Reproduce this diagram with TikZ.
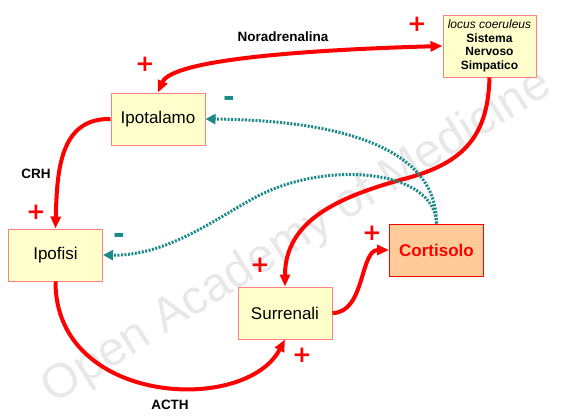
\documentclass[tikz,border=0pt]{standalone}
\usepackage{fontspec}
\setmainfont{Liberation Sans}
\newfontfamily\djv{DejaVu Sans}
\usetikzlibrary{arrows.meta}
\definecolor{boxfill}{RGB}{255,255,204}
\definecolor{boxline}{RGB}{255,128,128}
\definecolor{cortfill}{RGB}{255,204,153}
\definecolor{tealc}{RGB}{25,138,135}
\definecolor{wmgray}{RGB}{232,232,232}
\begin{document}
\begin{tikzpicture}[x=1pt,y=-1pt,
  box/.style={draw=boxline, fill=boxfill, line width=1pt, minimum width=94pt, minimum height=52pt, inner sep=0pt, font=\fontsize{17}{20}\selectfont},
  plussign/.style={red, font=\djv\bfseries\fontsize{23}{23}\selectfont, inner sep=0pt},
  minussign/.style={tealc, font=\djv\bfseries\fontsize{28}{28}\selectfont, inner sep=0pt},
  lbl/.style={font=\bfseries\fontsize{13.5}{15}\selectfont, inner sep=0pt},
  redarrow/.style={red, line width=4pt, -{Triangle[length=12pt,width=10pt]}},
  inh/.style={tealc, line width=3pt, dash pattern=on 2pt off 1.5pt, -{Triangle[length=10pt,width=10pt]}}
]
\useasboundingbox (0,0) rectangle (581,416);
\node[text=wmgray, font=\fontsize{48}{48}\selectfont, rotate=32, anchor=base] (wmark) at (304,248) {Open Academy of Medicine};

\node[box, align=center, font=\fontsize{12}{13.7}\selectfont, minimum width=93pt, minimum height=62pt] (locus) at (489.5,46) {\textit{locus coeruleus}\\\textbf{Sistema}\\\textbf{Nervoso}\\\textbf{Simpatico}};
\node[box] (ipot) at (158,119) {Ipotalamo};
\node[box] (ipof) at (55.5,255) {Ipofisi};
\node[box] (surr) at (285,313) {Surrenali};
\node[box, draw=red, fill=cortfill, text=red, font=\bfseries\fontsize{17}{20}\selectfont] (cort) at (436.5,250) {Cortisolo};

% red connectors
\draw[redarrow, {Triangle[length=12pt,width=10pt]}-{Triangle[length=12pt,width=10pt]}] (ipot.north) .. controls (172,60) and (300,50) .. (locus.west);
\draw[redarrow] (ipot.west) .. controls (60,118) and (57,170) .. (ipof.north);
\draw[redarrow] (ipof.south) .. controls (55,405) and (245,415) .. (surr.south);
\draw[redarrow] (surr.east) .. controls (365,313) and (360,250) .. (cort.west);
\draw[redarrow] (locus.south) .. controls (488,140) and (460,165) .. (400,180) .. controls (340,197) and (285,220) .. (surr.north);

% inhibitory connectors
\draw[inh] (cort.north) .. controls (437,140) and (320,120) .. (ipot.east);
\draw[inh] (cort.north) .. controls (435,170) and (330,160) .. (260,195) .. controls (220,215) and (170,256) .. (ipof.east);

% labels
\node[lbl] (lnor) at (283,37) {Noradrenalina};
\node[lbl] (lcrh) at (36,174) {CRH};
\node[lbl] (lacth) at (170,405) {ACTH};

% signs
\node[plussign] (p1) at (145,64) {+};
\node[plussign] (p2) at (417,24) {+};
\node[plussign] (p3) at (36,212) {+};
\node[plussign] (p4) at (260,265) {+};
\node[plussign] (p5) at (372,233) {+};
\node[plussign] (p6) at (302,355) {+};
\node[minussign] (m1) at (229,101) {-};
\node[minussign] (m2) at (119,238) {-};
\end{tikzpicture}
\end{document}
